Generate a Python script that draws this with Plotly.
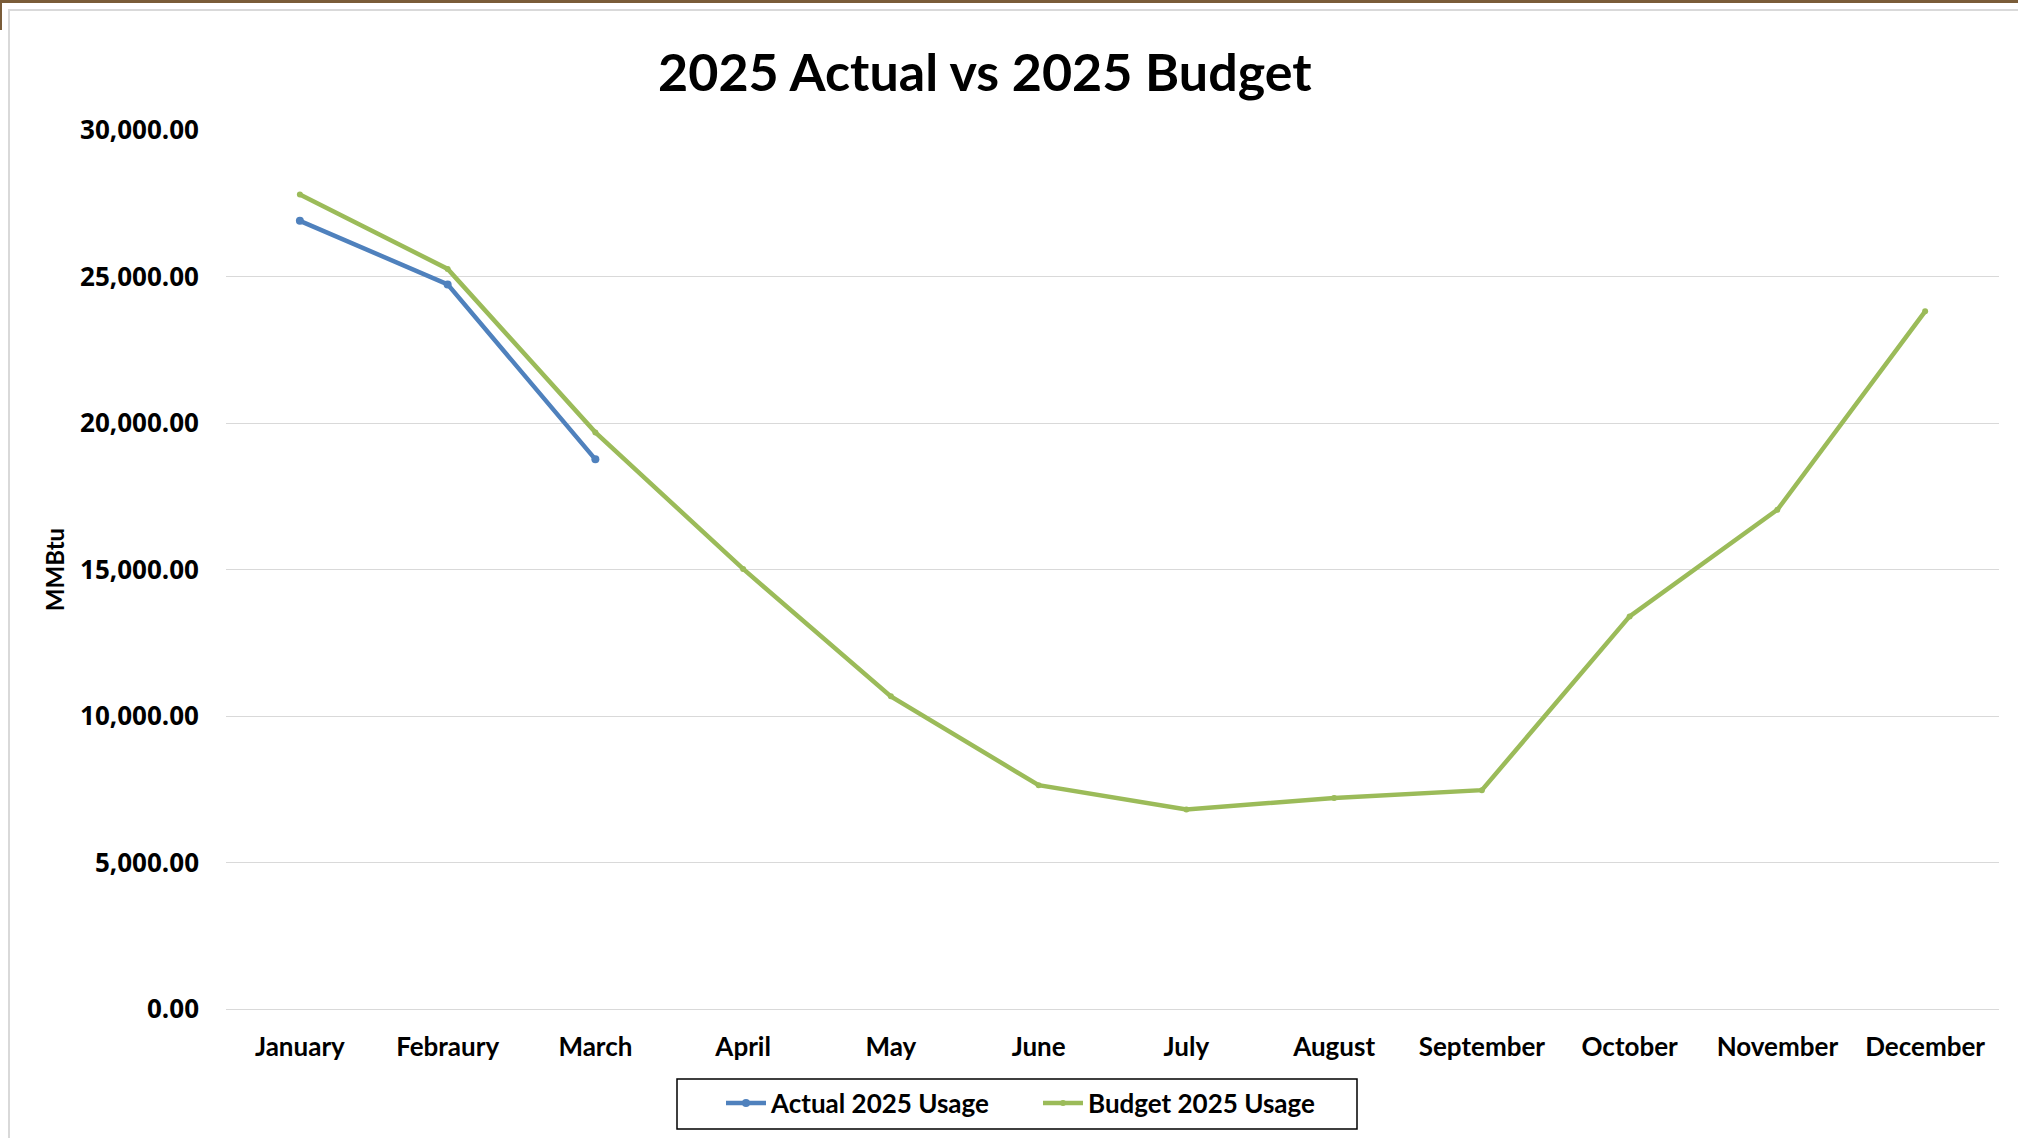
import plotly.graph_objects as go

months = ["January", "Febraury", "March", "April", "May", "June", "July",
          "August", "September", "October", "November", "December"]
actual_2025 = [26900, 24730, 18760]
budget_2025 = [27800, 25260, 19680, 15020, 10670, 7640, 6810, 7200, 7470, 13400, 17040, 23810]
y_ticks = [0, 5000, 10000, 15000, 20000, 25000, 30000]

BLUE = "#4F81BD"
GREEN = "#9BBB59"
FONT = "Lato"
PW, PH = 1773, 879  # plot area size in px

fig = go.Figure()
fig.add_trace(go.Scatter(
    x=months[:len(actual_2025)], y=actual_2025, name="Actual 2025 Usage",
    mode="lines+markers", line=dict(color=BLUE, width=4.5),
    marker=dict(color=BLUE, size=8)))
fig.add_trace(go.Scatter(
    x=months, y=budget_2025, name="Budget 2025 Usage",
    mode="lines+markers", line=dict(color=GREEN, width=4.5),
    marker=dict(color=GREEN, size=6)))

fig.update_layout(
    width=2018, height=1138,
    paper_bgcolor="white", plot_bgcolor="white",
    margin=dict(l=226, r=19, t=130, b=129),
    title=dict(text="<b>2025 Actual vs 2025 Budget</b>",
               font=dict(family=FONT, size=52, color="black"),
               x=0.488, xanchor="center", y=0.936, yanchor="middle"),
    showlegend=True,
    legend=dict(orientation="h", x=(721 - 226) / PW, xanchor="left",
                y=-(1103 - 1009) / PH, yanchor="middle",
                borderwidth=0, bgcolor="rgba(0,0,0,0)",
                font=dict(family=FONT, size=26, color="black", weight=700),
                itemwidth=40, entrywidthmode="pixels", entrywidth=262),
    font=dict(family=FONT, color="black"),
)
fig.update_xaxes(
    type="category", categoryorder="array", categoryarray=months,
    range=[-0.5, 11.5], showgrid=False, showline=False, ticks="",
    tickfont=dict(family=FONT, size=26, color="black", weight=700),
    ticklabelstandoff=20)
fig.update_yaxes(
    range=[0, 30000], tickvals=y_ticks, tickformat=",.2f",
    showgrid=True, gridcolor="#D9D9D9", gridwidth=1.2,
    zeroline=True, zerolinecolor="#D9D9D9", zerolinewidth=1.2,
    showline=False, ticks="",
    tickfont=dict(family="Open Sans", size=26, color="black", weight=700),
    ticklabelstandoff=26,
    title=dict(text="MMBtu", font=dict(family=FONT, size=24, color="black", weight=700),
               standoff=8))

# legend box
fig.add_shape(type="rect", xref="paper", yref="paper",
              x0=(677 - 226) / PW, x1=(1357 - 226) / PW,
              y0=-(1129 - 1009) / PH, y1=-(1079 - 1009) / PH,
              fillcolor="white", line=dict(color="black", width=1.5), layer="below")

# page frame: brown top rule and light gray chart border
fig.add_shape(type="rect", xref="paper", yref="paper",
              x0=-226 / PW, x1=1 + 19 / PW, y0=1 + 127 / PH, y1=1 + 130 / PH,
              fillcolor="#7A5C38", line_width=0, layer="below")
fig.add_shape(type="rect", xref="paper", yref="paper",
              x0=-226 / PW, x1=-224 / PW, y0=1 + 100 / PH, y1=1 + 130 / PH,
              fillcolor="#7A5C38", line_width=0, layer="below")
fig.add_shape(type="rect", xref="paper", yref="paper",
              x0=-217 / PW, x1=1 + 40 / PW, y0=-140 / PH, y1=1 + 120 / PH,
              fillcolor="rgba(0,0,0,0)", line=dict(color="#D9D9D9", width=2), layer="below")

fig.write_html("out.html")
